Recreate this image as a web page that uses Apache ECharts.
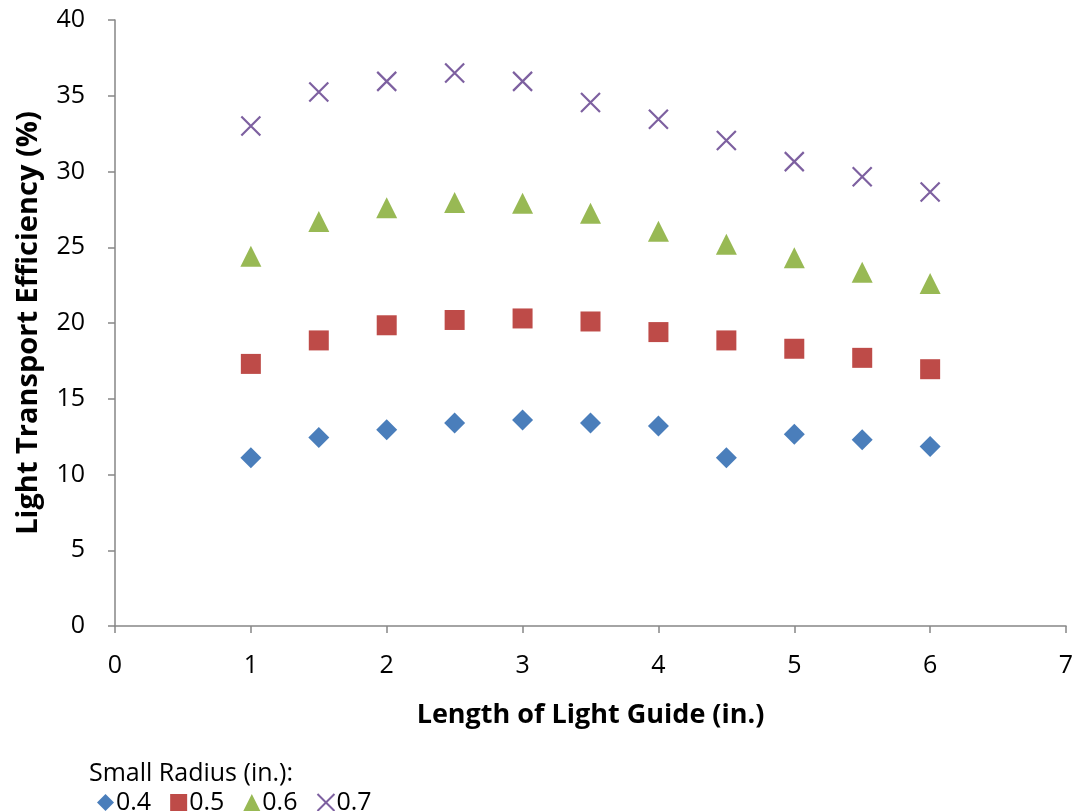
<!DOCTYPE html>
<html><head><meta charset="utf-8">
<script src="https://cdn.jsdelivr.net/npm/echarts@6/dist/echarts.min.js"></script>
<style>html,body{margin:0;padding:0;background:#fff}#c{width:1078px;height:811px}</style>
</head><body><div id="c"></div>
<script>
const lengths = [1, 1.5, 2, 2.5, 3, 3.5, 4, 4.5, 5, 5.5, 6];
const r04 = [11.1, 12.45, 12.95, 13.4, 13.6, 13.4, 13.2, 11.1, 12.65, 12.3, 11.85];
const r05 = [17.3, 18.85, 19.85, 20.2, 20.3, 20.1, 19.4, 18.85, 18.3, 17.7, 16.95];
const r06 = [24.4, 26.7, 27.6, 27.95, 27.9, 27.25, 26.05, 25.2, 24.3, 23.35, 22.6];
const r07 = [33.0, 35.25, 35.95, 36.5, 35.95, 34.55, 33.45, 32.05, 30.65, 29.65, 28.65];
const seriesNames = ['0.4', '0.5', '0.6', '0.7'];
const legendTitle = 'Small Radius (in.):';
const xTitle = 'Length of Light Guide (in.)';
const yTitle = 'Light Transport Efficiency (%)';

const pair = arr => lengths.map((x, i) => [x, arr[i]]);
const font = '"Open Sans", "Liberation Sans", sans-serif';
const axisColor = '#868686';
const chart = echarts.init(document.getElementById('c'), null, {renderer: 'canvas'});
chart.setOption({
  animation: false,
  backgroundColor: '#fff',
  textStyle: {fontFamily: font},
  title: {text: legendTitle, left: 84, top: 756, textStyle: {fontFamily: font, fontSize: 25, fontWeight: 'normal', color: '#000'}},
  legend: {
    left: 92, top: 785, itemGap: 19, itemWidth: 17, itemHeight: 17,
    textStyle: {fontFamily: font, fontSize: 25, color: '#000', padding: [0,0,0,-3]},
    data: seriesNames
  },
  grid: {left: 115, right: 12, top: 20, bottom: 185},
  xAxis: {
    type: 'value', min: 0, max: 7, interval: 1,
    name: xTitle, nameLocation: 'middle', nameGap: 76,
    nameTextStyle: {fontFamily: font, fontSize: 27, fontWeight: 'bold', color: '#000'},
    axisLine: {show: true, onZero: false, lineStyle: {color: axisColor, width: 1.5}},
    axisTick: {show: true, inside: false, length: 7, lineStyle: {color: axisColor, width: 1.5}},
    axisLabel: {fontFamily: font, fontSize: 25, color: '#000', margin: 27},
    splitLine: {show: false}
  },
  yAxis: {
    type: 'value', min: 0, max: 40, interval: 5,
    name: yTitle, nameLocation: 'middle', nameGap: 72, nameRotate: 90,
    nameTextStyle: {fontFamily: font, fontSize: 29, fontWeight: 'bold', color: '#000'},
    axisLine: {show: true, lineStyle: {color: axisColor, width: 1.5}},
    axisTick: {show: true, inside: false, length: 7, lineStyle: {color: axisColor, width: 1.5}},
    axisLabel: {fontFamily: font, fontSize: 25, color: '#000', margin: 30},
    splitLine: {show: false}
  },
  series: [
    {name: seriesNames[0], type: 'scatter', symbol: 'diamond', symbolSize: 21, data: pair(r04), itemStyle: {color: '#4a7ebb', opacity: 1}},
    {name: seriesNames[1], type: 'scatter', symbol: 'rect', symbolSize: 20, data: pair(r05), itemStyle: {color: '#be4b48', opacity: 1}},
    {name: seriesNames[2], type: 'scatter', symbol: 'triangle', symbolSize: 21, data: pair(r06), itemStyle: {color: '#98b954', opacity: 1}},
    {name: seriesNames[3], type: 'scatter', symbol: 'path://M0,0L10,10M10,0L0,10', symbolSize: 19, data: pair(r07),
      itemStyle: {color: 'rgba(0,0,0,0)', borderColor: '#7d60a0', borderWidth: 2.2, opacity: 1}}
  ]
});
</script></body></html>
